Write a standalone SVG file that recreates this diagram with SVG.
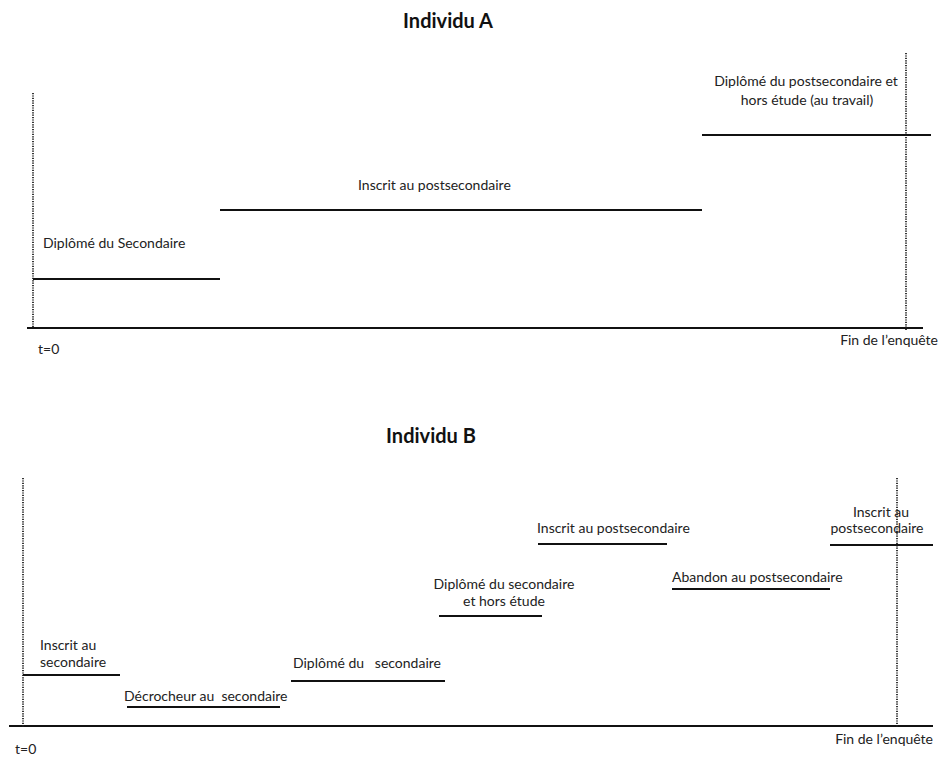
<svg xmlns="http://www.w3.org/2000/svg" width="940" height="757" viewBox="0 0 940 757">
<style>
.t{font-family:Lato,"Liberation Sans",sans-serif;font-size:14px;fill:#222}
.h{font-family:Lato,"Liberation Sans",sans-serif;font-size:20px;font-weight:bold;fill:#111}
.s{stroke:#111;stroke-width:2;fill:none}
.ax{stroke:#111;stroke-width:1.8;fill:none}
.d{stroke:#222;stroke-width:1.8;stroke-dasharray:1.2 1.2;fill:none}
</style>
<rect width="940" height="757" fill="#fff"/>
<g id="panelA">
<text class="h" x="448" y="28" text-anchor="middle">Individu A</text>
<g id="axisA">
<line class="ax" x1="27" y1="328" x2="923" y2="328"/>
<line class="d" x1="33" y1="93" x2="33" y2="328"/>
<line class="d" x1="906" y1="53" x2="906" y2="330"/>
<text class="t" x="38" y="354">t=0</text>
<text class="t" x="938" y="345" text-anchor="end">Fin de l’enquête</text>
</g>
<g id="a1">
<line class="s" x1="33" y1="279" x2="220" y2="279"/>
<text class="t" x="43" y="248">Diplômé du Secondaire</text>
</g>
<g id="a2">
<line class="s" x1="220" y1="210" x2="702" y2="210"/>
<text class="t" x="358" y="190">Inscrit au postsecondaire</text>
</g>
<g id="a3">
<line class="s" x1="702" y1="135" x2="931" y2="135"/>
<text class="t" x="806" y="86" text-anchor="middle">Diplômé du postsecondaire et</text>
<text class="t" x="807" y="105" text-anchor="middle">hors étude (au travail)</text>
</g>
</g>
<g id="panelB">
<text class="h" x="431" y="443" text-anchor="middle">Individu B</text>
<g id="axisB">
<line class="ax" x1="9" y1="726" x2="933" y2="726"/>
<line class="d" x1="23" y1="478" x2="23" y2="727"/>
<line class="d" x1="897" y1="478" x2="897" y2="727"/>
<text class="t" x="15" y="754">t=0</text>
<text class="t" x="933" y="744" text-anchor="end">Fin de l’enquête</text>
</g>
<g id="b1">
<line class="s" x1="23" y1="675" x2="120" y2="675"/>
<text class="t" x="40" y="650">Inscrit au</text>
<text class="t" x="40" y="667">secondaire</text>
</g>
<g id="b2">
<line class="s" x1="127" y1="707" x2="280" y2="707"/>
<text class="t" x="124" y="701" xml:space="preserve">Décrocheur au  secondaire</text>
</g>
<g id="b3">
<line class="s" x1="291" y1="681" x2="445" y2="681"/>
<text class="t" x="293" y="668" xml:space="preserve">Diplômé du   secondaire</text>
</g>
<g id="b4">
<line class="s" x1="439" y1="616" x2="542" y2="616"/>
<text class="t" x="504" y="589" text-anchor="middle">Diplômé du secondaire</text>
<text class="t" x="504" y="606" text-anchor="middle">et hors étude</text>
</g>
<g id="b5">
<line class="s" x1="538" y1="544" x2="667" y2="544"/>
<text class="t" x="537" y="533">Inscrit au postsecondaire</text>
</g>
<g id="b6">
<line class="s" x1="672" y1="589" x2="830" y2="589"/>
<text class="t" x="672" y="582">Abandon au postsecondaire</text>
</g>
<g id="b7">
<line class="s" x1="830" y1="545" x2="933" y2="545"/>
<text class="t" x="881" y="517" text-anchor="middle">Inscrit au</text>
<text class="t" x="877" y="533" text-anchor="middle">postsecondaire</text>
</g>
</g>
</svg>
